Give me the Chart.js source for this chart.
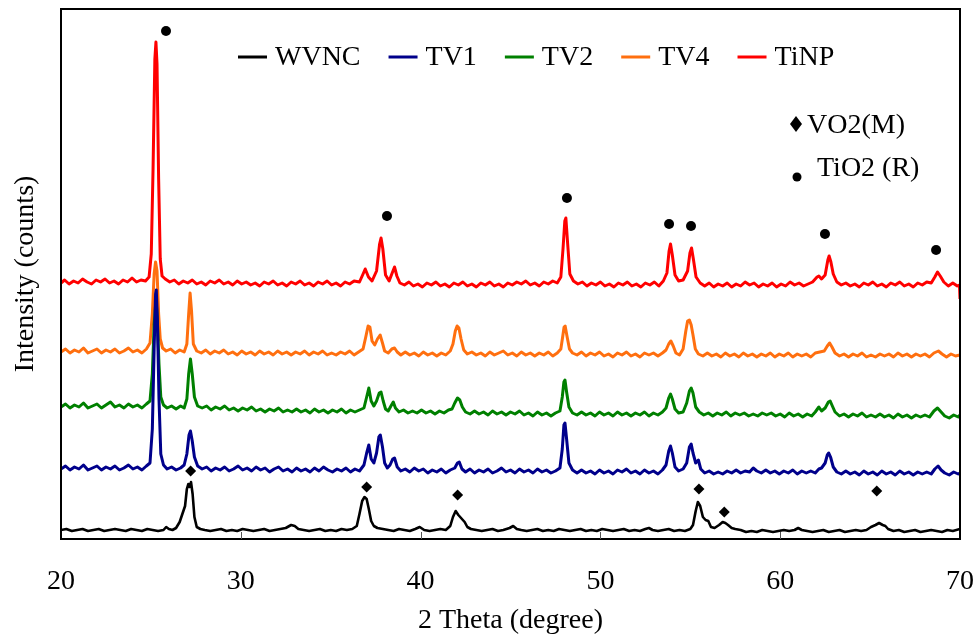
<!DOCTYPE html>
<html>
<head>
<meta charset="utf-8">
<script src="https://cdn.jsdelivr.net/npm/chart.js@4.4.1/dist/chart.umd.min.js"></script>
<style>
  html, body { margin: 0; padding: 0; background: #ffffff; }
  canvas { display: block; }
</style>
</head>
<body>
<canvas id="c" width="979" height="643"></canvas>
<script>
// ---- data (2θ in degrees, intensity in arbitrary counts) ----
const seriesNames = ['WVNC', 'TV1', 'TV2', 'TV4', 'TiNP'];
const seriesColors = ['#000000', '#00008B', '#008000', '#FF6F0F', '#FF0000'];
const xTicks = [20, 30, 40, 50, 60, 70];

const wvnc = [[20,9],[20.3,10],[20.6,8],[20.9,9],[21.2,10],[21.5,8],[21.8,9],[22.1,10],[22.4,8],[22.7,9],[23.0,10],[23.3,9],[23.6,8],[23.9,10],[24.2,9],[24.5,8],[24.8,10],[25.1,9],[25.4,8],[25.7,9],[25.85,12],[26.0,10],[26.2,9],[26.4,11],[26.6,17],[26.75,25],[26.9,33],[27.0,50],[27.08,55],[27.15,52],[27.23,57],[27.32,45],[27.42,22],[27.55,12],[27.75,10],[28.0,9],[28.3,8],[28.6,9],[28.9,10],[29.2,8],[29.5,9],[29.8,8],[30.1,10],[30.4,9],[30.7,8],[31.0,9],[31.3,10],[31.6,8],[31.9,9],[32.2,10],[32.5,11],[32.8,14],[33.0,13],[33.2,10],[33.5,9],[33.8,8],[34.1,9],[34.4,10],[34.7,8],[35.0,9],[35.3,8],[35.6,10],[35.9,9],[36.2,10],[36.45,13],[36.6,25],[36.75,38],[36.88,42],[37.0,40],[37.12,30],[37.25,18],[37.4,13],[37.6,11],[37.9,10],[38.2,9],[38.5,8],[38.8,10],[39.1,9],[39.4,8],[39.7,10],[39.95,12],[40.2,9],[40.5,8],[40.8,9],[41.1,10],[41.4,9],[41.65,13],[41.8,22],[41.95,28],[42.1,24],[42.3,20],[42.45,17],[42.6,12],[42.8,10],[43.1,9],[43.4,8],[43.7,9],[44.0,10],[44.3,8],[44.6,9],[44.95,11],[45.15,13],[45.35,10],[45.6,9],[45.9,8],[46.2,9],[46.5,10],[46.8,8],[47.1,9],[47.4,8],[47.7,10],[48.0,9],[48.3,8],[48.6,9],[48.9,10],[49.2,8],[49.5,9],[49.8,8],[50.1,10],[50.4,9],[50.7,8],[51.0,9],[51.3,10],[51.6,8],[51.9,9],[52.2,8],[52.5,10],[52.7,11],[52.9,9],[53.2,8],[53.5,9],[53.8,10],[54.1,8],[54.4,9],[54.7,8],[55.0,10],[55.15,14],[55.3,28],[55.42,37],[55.55,33],[55.7,22],[55.85,19],[56.0,18],[56.15,12],[56.35,11],[56.6,14],[56.8,17],[56.95,16],[57.1,14],[57.3,11],[57.5,10],[57.8,9],[58.1,7],[58.4,8],[58.7,7],[59.0,9],[59.3,8],[59.6,7],[59.9,8],[60.2,9],[60.5,8],[60.8,9],[61.0,11],[61.2,9],[61.5,8],[61.8,7],[62.1,8],[62.4,9],[62.7,7],[63.0,8],[63.3,9],[63.6,7],[63.9,8],[64.2,9],[64.5,8],[64.8,9],[65.05,12],[65.3,14],[65.5,16],[65.7,14],[65.85,13],[66.0,10],[66.3,8],[66.6,9],[66.9,7],[67.2,8],[67.5,9],[67.8,7],[68.1,8],[68.4,9],[68.7,8],[69.0,7],[69.3,9],[69.6,8],[70,10]];

const tv1 = [[20,70],[20.25,73],[20.5,69],[20.75,72],[21.0,70],[21.25,74],[21.5,69],[21.75,71],[22.0,73],[22.25,69],[22.5,72],[22.75,70],[23.0,73],[23.25,69],[23.5,71],[23.75,74],[24.0,70],[24.25,72],[24.5,69],[24.75,73],[24.95,76],[25.08,110],[25.18,190],[25.26,245],[25.3,249],[25.36,220],[25.45,140],[25.55,85],[25.7,74],[25.9,70],[26.15,72],[26.4,69],[26.65,71],[26.85,74],[27.0,85],[27.12,104],[27.2,108],[27.3,98],[27.42,82],[27.6,73],[27.85,70],[28.1,72],[28.35,68],[28.6,71],[28.85,69],[29.1,72],[29.35,68],[29.6,70],[29.85,73],[30.1,69],[30.35,71],[30.6,68],[30.85,72],[31.1,69],[31.35,71],[31.6,67],[31.85,70],[32.1,72],[32.35,68],[32.6,70],[32.85,67],[33.1,71],[33.35,68],[33.6,70],[33.85,67],[34.1,71],[34.35,68],[34.6,72],[34.85,69],[35.1,67],[35.35,70],[35.6,68],[35.85,71],[36.1,67],[36.35,70],[36.6,68],[36.85,74],[37.0,86],[37.12,94],[37.25,80],[37.4,76],[37.55,86],[37.68,102],[37.76,104],[37.88,92],[38.0,76],[38.15,71],[38.3,74],[38.45,80],[38.55,81],[38.7,72],[38.9,68],[39.15,70],[39.4,67],[39.65,71],[39.9,68],[40.15,70],[40.4,66],[40.65,69],[40.9,67],[41.15,70],[41.4,66],[41.65,69],[41.9,71],[42.05,76],[42.15,77],[42.3,70],[42.5,67],[42.75,70],[43.0,66],[43.25,69],[43.5,67],[43.75,70],[44.0,66],[44.25,68],[44.5,71],[44.75,67],[45.0,69],[45.25,66],[45.5,70],[45.75,67],[46.0,69],[46.25,66],[46.5,70],[46.75,67],[47.0,69],[47.25,66],[47.5,68],[47.75,71],[47.88,90],[47.97,114],[48.03,116],[48.12,100],[48.25,76],[48.45,69],[48.7,66],[48.95,69],[49.2,66],[49.45,68],[49.7,65],[49.95,69],[50.2,66],[50.45,68],[50.7,65],[50.95,69],[51.2,67],[51.45,70],[51.7,66],[51.95,68],[52.2,65],[52.45,69],[52.7,66],[52.95,68],[53.2,65],[53.45,69],[53.65,74],[53.8,88],[53.9,93],[54.0,86],[54.15,72],[54.35,68],[54.6,70],[54.8,76],[54.95,92],[55.05,95],[55.15,86],[55.3,76],[55.45,79],[55.58,70],[55.8,66],[56.05,68],[56.3,65],[56.55,67],[56.8,65],[57.05,68],[57.3,66],[57.55,69],[57.8,66],[58.05,68],[58.3,67],[58.5,71],[58.7,68],[58.95,66],[59.2,69],[59.45,66],[59.7,68],[59.95,65],[60.2,68],[60.45,66],[60.7,69],[60.95,65],[61.2,68],[61.45,66],[61.7,68],[61.95,66],[62.15,70],[62.3,71],[62.5,76],[62.62,84],[62.7,86],[62.8,82],[62.95,72],[63.15,67],[63.4,65],[63.65,68],[63.9,65],[64.15,67],[64.4,64],[64.65,68],[64.9,65],[65.15,67],[65.4,64],[65.65,68],[65.9,65],[66.15,67],[66.4,64],[66.65,68],[66.9,65],[67.15,67],[67.4,64],[67.65,67],[67.9,65],[68.15,67],[68.4,65],[68.6,70],[68.78,73],[68.95,69],[69.15,66],[69.4,64],[69.65,67],[69.9,65],[70,66]];

const tv2 = [[20,132],[20.25,135],[20.5,131],[20.75,134],[21.0,132],[21.25,136],[21.5,131],[21.75,133],[22.0,135],[22.25,131],[22.5,134],[22.75,137],[23.0,132],[23.25,134],[23.5,131],[23.75,135],[24.0,132],[24.25,134],[24.5,131],[24.75,135],[24.95,138],[25.08,165],[25.18,215],[25.26,234],[25.3,236],[25.36,218],[25.45,175],[25.55,142],[25.7,134],[25.9,131],[26.15,133],[26.4,130],[26.65,133],[26.85,131],[27.0,140],[27.1,165],[27.2,180],[27.3,165],[27.42,142],[27.6,133],[27.85,131],[28.1,133],[28.35,129],[28.6,132],[28.85,130],[29.1,133],[29.35,129],[29.6,131],[29.85,128],[30.1,131],[30.35,129],[30.6,132],[30.85,128],[31.1,130],[31.35,127],[31.6,130],[31.85,128],[32.1,131],[32.35,127],[32.6,129],[32.85,127],[33.1,130],[33.35,127],[33.6,129],[33.85,126],[34.1,130],[34.35,127],[34.6,129],[34.85,126],[35.1,129],[35.35,127],[35.6,130],[35.85,126],[36.1,129],[36.35,127],[36.6,129],[36.85,131],[37.0,142],[37.12,151],[37.25,138],[37.4,133],[37.55,138],[37.7,146],[37.8,147],[37.92,138],[38.05,130],[38.2,128],[38.35,133],[38.48,137],[38.6,131],[38.8,127],[39.05,129],[39.3,126],[39.55,128],[39.8,126],[40.05,129],[40.3,126],[40.55,128],[40.8,125],[41.05,128],[41.3,126],[41.55,129],[41.75,130],[41.9,136],[42.05,141],[42.18,139],[42.32,132],[42.5,127],[42.75,125],[43.0,128],[43.25,125],[43.5,127],[43.75,124],[44.0,128],[44.25,125],[44.5,127],[44.75,124],[45.0,127],[45.25,125],[45.5,128],[45.75,124],[46.0,126],[46.25,123],[46.5,127],[46.75,124],[47.0,126],[47.25,123],[47.5,126],[47.75,128],[47.88,142],[47.97,157],[48.03,159],[48.12,147],[48.25,132],[48.45,126],[48.7,124],[48.95,127],[49.2,124],[49.45,126],[49.7,123],[49.95,127],[50.2,124],[50.45,126],[50.7,123],[50.95,127],[51.2,124],[51.45,126],[51.7,123],[51.95,126],[52.2,124],[52.45,127],[52.7,123],[52.95,126],[53.2,124],[53.45,127],[53.65,131],[53.8,141],[53.9,145],[54.0,140],[54.15,130],[54.35,126],[54.6,127],[54.8,136],[54.95,148],[55.05,151],[55.15,146],[55.3,132],[55.5,127],[55.75,124],[56.0,126],[56.25,123],[56.5,126],[56.75,124],[57.0,127],[57.25,123],[57.5,126],[57.75,124],[58.0,126],[58.25,123],[58.5,125],[58.75,123],[59.0,126],[59.25,124],[59.5,126],[59.75,123],[60.0,125],[60.25,122],[60.5,126],[60.75,123],[61.0,125],[61.25,122],[61.5,125],[61.75,123],[61.95,127],[62.15,132],[62.3,128],[62.5,131],[62.68,137],[62.78,138],[62.9,133],[63.05,127],[63.3,123],[63.55,125],[63.8,122],[64.05,125],[64.3,123],[64.55,126],[64.8,122],[65.05,124],[65.3,122],[65.55,125],[65.8,122],[66.05,124],[66.3,121],[66.55,125],[66.8,122],[67.05,124],[67.3,121],[67.55,124],[67.8,122],[68.05,124],[68.3,122],[68.55,128],[68.75,131],[68.95,127],[69.15,123],[69.4,121],[69.65,124],[69.9,122],[70,124]];

const tv4 = [[20,187],[20.25,190],[20.5,186],[20.75,189],[21.0,187],[21.25,191],[21.5,186],[21.75,188],[22.0,190],[22.25,186],[22.5,189],[22.75,187],[23.0,190],[23.25,186],[23.5,188],[23.75,191],[24.0,187],[24.25,189],[24.5,186],[24.75,190],[24.95,196],[25.08,225],[25.18,265],[25.26,277],[25.34,268],[25.43,225],[25.52,200],[25.65,191],[25.85,188],[26.1,190],[26.35,186],[26.6,189],[26.85,187],[27.0,195],[27.1,225],[27.18,246],[27.26,228],[27.36,195],[27.55,188],[27.8,186],[28.05,189],[28.3,185],[28.55,188],[28.8,186],[29.05,189],[29.3,185],[29.55,187],[29.8,184],[30.05,188],[30.3,185],[30.55,187],[30.8,184],[31.05,188],[31.3,185],[31.55,187],[31.8,184],[32.05,188],[32.3,185],[32.55,187],[32.8,184],[33.05,187],[33.3,185],[33.55,188],[33.8,184],[34.05,187],[34.3,185],[34.55,188],[34.8,184],[35.05,186],[35.3,184],[35.55,187],[35.8,185],[36.05,188],[36.3,184],[36.55,187],[36.8,190],[36.95,202],[37.08,213],[37.18,212],[37.3,198],[37.45,194],[37.6,200],[37.75,204],[37.88,196],[38.0,188],[38.2,186],[38.4,190],[38.55,191],[38.7,187],[38.9,184],[39.15,187],[39.4,184],[39.65,186],[39.9,183],[40.15,187],[40.4,184],[40.65,186],[40.9,183],[41.15,186],[41.4,184],[41.65,188],[41.8,195],[41.93,208],[42.03,213],[42.13,211],[42.25,200],[42.4,189],[42.6,185],[42.85,187],[43.1,184],[43.35,186],[43.6,183],[43.85,187],[44.1,184],[44.35,186],[44.6,188],[44.85,184],[45.1,186],[45.35,183],[45.6,187],[45.85,184],[46.1,186],[46.35,183],[46.6,186],[46.85,184],[47.1,187],[47.35,183],[47.6,186],[47.8,190],[47.9,202],[47.98,212],[48.04,213],[48.14,203],[48.28,190],[48.45,186],[48.7,184],[48.95,187],[49.2,183],[49.45,186],[49.7,184],[49.95,187],[50.2,183],[50.45,185],[50.7,182],[50.95,186],[51.2,184],[51.45,187],[51.7,183],[51.95,185],[52.2,182],[52.45,186],[52.7,184],[52.95,186],[53.2,183],[53.45,186],[53.65,189],[53.8,195],[53.92,198],[54.05,193],[54.2,186],[54.4,184],[54.6,190],[54.75,208],[54.85,218],[54.95,219],[55.05,214],[55.15,204],[55.28,190],[55.45,185],[55.7,183],[55.95,186],[56.2,183],[56.45,185],[56.7,182],[56.95,186],[57.2,183],[57.45,185],[57.7,182],[57.95,186],[58.2,183],[58.45,185],[58.7,182],[58.95,185],[59.2,183],[59.45,186],[59.7,182],[59.95,185],[60.2,183],[60.45,186],[60.7,182],[60.95,185],[61.2,183],[61.45,185],[61.7,182],[61.95,186],[62.2,187],[62.45,188],[62.62,193],[62.75,196],[62.88,192],[63.05,186],[63.3,183],[63.55,185],[63.8,182],[64.05,185],[64.3,183],[64.55,186],[64.8,182],[65.05,184],[65.3,182],[65.55,185],[65.8,183],[66.05,185],[66.3,182],[66.55,186],[66.8,183],[67.05,185],[67.3,182],[67.55,185],[67.8,183],[68.05,185],[68.3,182],[68.55,186],[68.8,188],[69.0,185],[69.25,182],[69.5,185],[69.75,183],[70,184]];

const tinp = [[20,256],[20.2,259],[20.45,255],[20.7,258],[20.95,256],[21.2,260],[21.45,257],[21.7,255],[21.95,259],[22.2,257],[22.45,260],[22.7,256],[22.95,258],[23.2,255],[23.45,259],[23.7,257],[23.95,261],[24.2,257],[24.45,259],[24.7,258],[24.9,262],[25.02,285],[25.12,370],[25.22,480],[25.28,497],[25.34,475],[25.43,360],[25.52,280],[25.62,263],[25.8,260],[26.05,257],[26.3,259],[26.55,255],[26.8,258],[27.05,256],[27.3,259],[27.55,255],[27.8,257],[28.05,254],[28.3,258],[28.55,256],[28.8,259],[29.05,255],[29.3,257],[29.55,254],[29.8,258],[30.05,255],[30.3,257],[30.55,254],[30.8,256],[31.05,253],[31.3,257],[31.55,255],[31.8,258],[32.05,254],[32.3,256],[32.55,253],[32.8,257],[33.05,255],[33.3,258],[33.55,254],[33.8,256],[34.05,253],[34.3,257],[34.55,255],[34.8,258],[35.05,254],[35.3,256],[35.55,253],[35.8,257],[36.05,255],[36.3,258],[36.6,257],[36.8,265],[36.92,270],[37.1,262],[37.3,258],[37.55,268],[37.72,295],[37.8,301],[37.9,290],[38.05,264],[38.25,258],[38.42,266],[38.55,272],[38.68,263],[38.85,256],[39.1,254],[39.35,257],[39.6,253],[39.85,255],[40.1,252],[40.35,256],[40.6,254],[40.85,257],[41.1,253],[41.35,255],[41.6,252],[41.85,256],[42.1,254],[42.35,257],[42.6,253],[42.85,255],[43.1,252],[43.35,256],[43.6,254],[43.85,257],[44.1,253],[44.35,255],[44.6,252],[44.85,256],[45.1,254],[45.35,257],[45.6,255],[45.85,258],[46.1,254],[46.35,256],[46.6,253],[46.85,257],[47.1,255],[47.35,258],[47.6,256],[47.8,262],[47.92,290],[48.02,318],[48.08,321],[48.18,295],[48.3,265],[48.5,258],[48.75,255],[49.0,257],[49.25,253],[49.5,256],[49.75,254],[50.0,257],[50.25,253],[50.5,255],[50.75,252],[51.0,256],[51.25,254],[51.5,257],[51.75,253],[52.0,255],[52.25,252],[52.5,256],[52.75,254],[53.0,257],[53.25,253],[53.5,258],[53.7,266],[53.82,288],[53.9,295],[54.0,284],[54.15,264],[54.35,258],[54.6,259],[54.85,268],[54.98,286],[55.07,291],[55.17,280],[55.32,262],[55.55,256],[55.8,253],[56.05,256],[56.3,252],[56.55,255],[56.8,253],[57.05,256],[57.3,252],[57.55,255],[57.8,253],[58.05,257],[58.3,254],[58.55,256],[58.8,252],[59.05,255],[59.3,253],[59.55,256],[59.8,252],[60.05,255],[60.3,253],[60.55,257],[60.8,254],[61.05,256],[61.3,253],[61.55,255],[61.8,257],[62.05,262],[62.15,263],[62.3,260],[62.5,264],[62.65,279],[62.72,283],[62.82,277],[62.95,265],[63.15,257],[63.4,254],[63.65,256],[63.9,253],[64.15,255],[64.4,252],[64.65,256],[64.9,254],[65.15,257],[65.4,253],[65.65,255],[65.9,252],[66.15,256],[66.4,254],[66.65,257],[66.9,253],[67.15,255],[67.4,252],[67.65,256],[67.9,254],[68.15,257],[68.4,256],[68.6,262],[68.75,267],[68.9,263],[69.1,257],[69.35,253],[69.6,256],[69.85,253],[69.97,254],[70,240]];

// peak markers
const tio2X = [25.84, 38.13, 48.14, 53.82, 55.04, 62.49, 68.67];
const tio2Y = [508, 323, 341, 315, 313, 305, 289];
const vo2X = [27.21, 37.0, 42.06, 55.48, 56.89, 65.37];
const vo2Y = [68, 52, 44, 50, 27, 48];

const phaseLabels = ['VO2(M)', 'TiO2 (R)'];

// ---- chart ----
const FONT = '"Liberation Serif", "Times New Roman", serif';
const seriesData = [wvnc, tv1, tv2, tv4, tinp];

const datasets = seriesData.map((d, i) => ({
  type: 'line',
  label: seriesNames[i],
  data: d,
  borderColor: seriesColors[i],
  backgroundColor: seriesColors[i],
  borderWidth: i === 0 ? 2.6 : 3,
  borderJoinStyle: 'round',
  pointRadius: 0,
  tension: 0,
  order: i
}));
datasets.push({
  type: 'scatter',
  label: 'TiO2 marks',
  data: tio2X.map((x, i) => ({ x: x, y: tio2Y[i] })),
  pointStyle: 'circle',
  pointRadius: 5,
  backgroundColor: '#000',
  borderColor: '#000',
  borderWidth: 0,
  order: -2
});
datasets.push({
  type: 'scatter',
  label: 'VO2 marks',
  data: vo2X.map((x, i) => ({ x: x, y: vo2Y[i] })),
  pointStyle: 'rectRot',
  pointRadius: 5.5,
  backgroundColor: '#000',
  borderColor: '#000',
  borderWidth: 0,
  order: -1
});

const framePlugin = {
  id: 'frameAndLegend',
  afterDraw(chart) {
    const ctx = chart.ctx;
    const a = chart.chartArea;
    const xs = chart.scales.x;
    ctx.save();
    // frame
    ctx.strokeStyle = '#000';
    ctx.lineWidth = 2;
    ctx.strokeRect(a.left, a.top, a.right - a.left, a.bottom - a.top);
    // inside tick marks
    ctx.strokeStyle = '#555';
    ctx.lineWidth = 1;
    xTicks.slice(1, -1).forEach(v => {
      const px = Math.round(xs.getPixelForValue(v)) + 0.5;
      ctx.beginPath();
      ctx.moveTo(px, a.bottom);
      ctx.lineTo(px, a.bottom - 7);
      ctx.stroke();
    });
    // series legend
    ctx.font = '28px ' + FONT;
    ctx.textBaseline = 'middle';
    ctx.textAlign = 'left';
    let x = 238;
    const y = 57;
    seriesNames.forEach((name, i) => {
      ctx.strokeStyle = seriesColors[i];
      ctx.lineWidth = 3;
      ctx.beginPath();
      ctx.moveTo(x, y);
      ctx.lineTo(x + 29, y);
      ctx.stroke();
      ctx.fillStyle = '#000';
      ctx.fillText(name, x + 37, y + 1);
      x += 37 + ctx.measureText(name).width + 28;
    });
    // phase legend
    ctx.fillStyle = '#000';
    ctx.beginPath();
    ctx.moveTo(796, 116);
    ctx.lineTo(802, 124);
    ctx.lineTo(796, 132);
    ctx.lineTo(790, 124);
    ctx.closePath();
    ctx.fill();
    ctx.fillText(phaseLabels[0], 807, 126);
    ctx.beginPath();
    ctx.arc(797, 177, 4.5, 0, Math.PI * 2);
    ctx.fill();
    ctx.fillText(phaseLabels[1], 817, 169);
    ctx.restore();
  }
};

new Chart(document.getElementById('c'), {
  data: { datasets: datasets },
  options: {
    responsive: false,
    animation: false,
    devicePixelRatio: 1,
    layout: { padding: { top: 9, right: 19, left: 0, bottom: 0 } },
    plugins: {
      legend: { display: false },
      tooltip: { enabled: false },
      title: { display: false }
    },
    scales: {
      x: {
        type: 'linear',
        min: 20,
        max: 70,
        afterFit: s => { s.height = 104; s.paddingLeft = 0; s.paddingRight = 0; },
        afterBuildTicks: s => { s.ticks = xTicks.map(v => ({ value: v })); },
        grid: { display: false, drawTicks: false },
        border: { display: true, color: '#000', width: 2 },
        ticks: { color: '#000', font: { family: FONT, size: 28 }, padding: 26, maxRotation: 0 },
        title: { display: true, text: '2 Theta (degree)', color: '#000', font: { family: FONT, size: 28 }, padding: { top: 0, bottom: 6 } }
      },
      y: {
        type: 'linear',
        min: 0,
        max: 530,
        afterFit: s => { s.width = 61; s.paddingTop = 0; s.paddingBottom = 0; },
        grid: { display: false, drawTicks: false },
        border: { display: true, color: '#000', width: 2 },
        ticks: { display: false },
        title: { display: true, text: 'Intensity (counts)', color: '#000', font: { family: FONT, size: 28 }, padding: { top: 9, bottom: 0 } }
      }
    }
  },
  plugins: [framePlugin]
});
</script>
</body>
</html>
